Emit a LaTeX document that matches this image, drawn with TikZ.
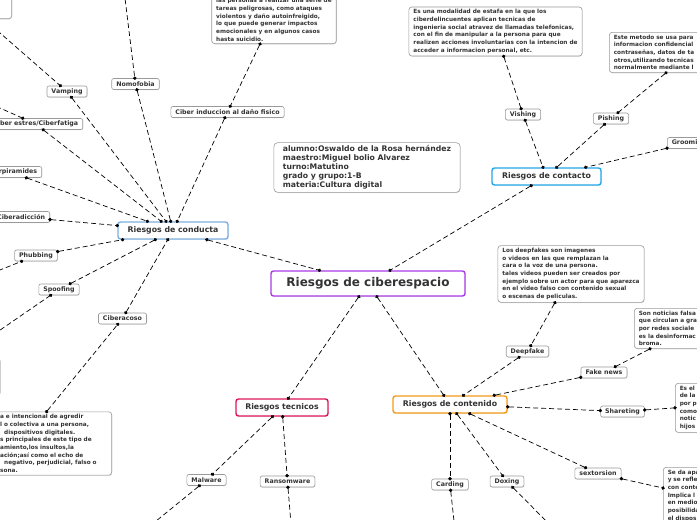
\documentclass[tikz,border=0pt]{standalone}
\usepackage{fontspec}
\setmainfont{DejaVu Sans}
\usepackage{tikz}
\usetikzlibrary{arrows.meta,shadows}
\definecolor{ink}{HTML}{333333}
\definecolor{rimgray}{HTML}{9A9A9A}
\definecolor{rootpurple}{HTML}{A93BE8}
\definecolor{conductablue}{HTML}{7DB0E0}
\definecolor{contactoblue}{HTML}{22A7E8}
\definecolor{tecnicored}{HTML}{E0165C}
\definecolor{contenidoorange}{HTML}{F59B19}

\begin{document}
\begin{tikzpicture}[x=1pt,y=-1pt,
    box/.style={draw=rimgray, fill=white, rounded corners=2pt, line width=0.6pt,
      text=ink, font=\bfseries\fontsize{6.3}{7}\selectfont,
      inner xsep=4.5pt, inner ysep=1.5pt, minimum height=11pt,
      drop shadow={shadow xshift=0.5pt, shadow yshift=-0.7pt, opacity=0.25}},
    topic/.style={box, line width=1.4pt, rounded corners=2.5pt,
      font=\bfseries\fontsize{7.8}{9}\selectfont, minimum height=17pt},
    note/.style={box, rounded corners=3pt, align=left, inner xsep=4.5pt, inner ysep=2.5pt,
      font=\bfseries\fontsize{5.75}{7.7}\selectfont},
    link/.style={draw=black, line width=0.7pt, dash pattern=on 5pt off 3pt,
      {Circle[length=3.4pt]}-{Circle[length=3.4pt]},
      shorten <=-1.7pt, shorten >=-1.7pt}
  ]
  \useasboundingbox (0,0) rectangle (697,520);
  \fill[white] (0,0) rectangle (697,520);

  % centre and the four branches
  \node[topic, draw=rootpurple, minimum width=194pt, minimum height=25pt,
    font=\bfseries\fontsize{12}{14}\selectfont] (root) at (368,283.5) {Riesgos de ciberespacio};
  \node[box, rounded corners=4pt, align=left, inner xsep=9pt, inner ysep=3pt,
    font=\bfseries\fontsize{7.7}{9}\selectfont] (alumno) at (367,167.5)
    {alumno:Oswaldo de la Rosa hernández\\maestro:Miguel bolio Alvarez\\turno:Matutino\\grado y grupo:1-B\\materia:Cultura digital};
  \node[topic, draw=conductablue, minimum width=110pt] (conducta) at (173,230.5) {Riesgos de conducta};
  \node[topic, draw=contactoblue, minimum width=109pt] (contacto) at (546.5,176.5) {Riesgos de contacto};
  \node[topic, draw=tecnicored, minimum width=92pt] (tecnicos) at (282,407.5) {Riesgos tecnicos};
  \node[topic, draw=contenidoorange, minimum width=114pt] (contenido) at (450,404.5) {Riesgos de contenido};

  % riesgos de conducta
  \node[box] (nomofobia) at (135.5,84) {Nomofobia};
  \node[box] (vamping) at (67,91.5) {Vamping};
  \node[box, anchor=east] (estres) at (83,124) {Ciber estres/Ciberfatiga};
  \node[box, anchor=east] (piramides) at (42,172) {Ciberpiramides};
  \node[box, anchor=east] (adiccion) at (50,217) {Ciberadicción};
  \node[box] (phubbing) at (36,255.5) {Phubbing};
  \node[box] (spoofing) at (59,289.5) {Spoofing};
  \node[box] (ciberacoso) at (122.5,318.5) {Ciberacoso};
  \node[box] (induccion) at (227.5,112) {Ciber induccion al daño fisico};
  \node[note, anchor=south east, minimum width=80pt, minimum height=50pt] (vampingnota) at (12,19) {};
  \node[note, anchor=north east, minimum width=100pt, minimum height=37pt] (spoofingnota) at (0.5,358) {};
  \node[note, anchor=south] (induccionnota) at (274,44)
    {las personas a realizar una serie de\\tareas peligrosas, como ataques\\violentos y daño autoinfreigido,\\lo que puede generar impactos\\emocionales y en algunos casos\\hasta suicidio.};
  \node[note, anchor=east, text width=107pt] (acosonota) at (112,443.5)
    {a e intencional de agredir\\l o colectiva a una persona,\\\hspace*{4pt}dispositivos digitales.\\s principales de este tipo de\\amiento,los insultos,la\\ación;así como el echo de\\\hspace*{4pt}negativo, perjudicial, falso o\\sona.};
  \coordinate (nomofin) at (124,-10);
  \coordinate (estresfin) at (-27,96);
  \coordinate (phubfin) at (-40,286);

  % riesgos de contacto
  \node[box] (vishing) at (523,114.5) {Vishing};
  \node[box] (pishing) at (611,118.5) {Pishing};
  \node[box, anchor=west] (grooming) at (667,143) {Grooming};
  \node[note] (vishingnota) at (495.5,31.5)
    {Es una modalidad de estafa en la que los\\ciberdelincuentes aplican tecnicas de\\ingenieria social atravez de llamadas telefonicas,\\con el fin de manipular a la persona para que\\realizen acciones involuntarias con la intencion de\\acceder a informacion personal, etc.};
  \node[note, anchor=north west, text width=160pt] (pishingnota) at (609,32)
    {Este metodo se usa para\\informacion confidencial\\contraseñas, datos de ta\\otros,utilizando tecnicas\\normalmente mediante l};

  % riesgos tecnicos
  \node[box] (malware) at (206.5,480) {Malware};
  \node[box] (ransomware) at (287.5,481.5) {Ransomware};
  \coordinate (malfin) at (145,530);
  \coordinate (ransfin) at (291.5,530);

  % riesgos de contenido
  \node[box] (deepfake) at (527.5,351.5) {Deepfake};
  \node[box] (fakenews) at (604,372.5) {Fake news};
  \node[box] (shareting) at (622.5,411.5) {Shareting};
  \node[box] (sextorsion) at (598,473.5) {sextorsion};
  \node[box] (carding) at (450,484.5) {Carding};
  \node[box] (doxing) at (507,481.5) {Doxing};
  \node[note] (deepnota) at (571,274)
    {Los deepfakes son imagenes\\o videos en las que remplazan la\\cara o la voz de una persona.\\tales videos pueden ser creados por\\ejemplo sobre un actor para que aparezca\\en el video falso con contenido sexual\\o escenas de peliculas.};
  \node[note, anchor=north west, text width=120pt] (fakenota) at (634,308)
    {Son noticias falsa\\que circulan a gra\\por redes sociale\\es la desinformac\\broma.};
  \node[note, anchor=north west, text width=80pt] (sharenota) at (675,383)
    {Es el\\de la\\por p\\como\\notic\\hijos};
  \node[note, anchor=north west, text width=90pt] (sextonota) at (663,467)
    {Se da apa\\y se refle\\con conte\\Implica l\\en medio\\posibilida\\el dispos};
  \coordinate (cardfin) at (455,530);
  \coordinate (doxfin) at (560,535);

  % connectors
  \draw[link] (conducta) -- (root);
  \draw[link] (contacto) -- (root);
  \draw[link] (root) -- (tecnicos);
  \draw[link] (root) -- (contenido);

  \draw[link] (nomofin) -- (nomofobia);
  \draw[link] (nomofobia) -- (conducta);
  \draw[link] ([xshift=-28pt]vampingnota.south east) -- (vamping);
  \draw[link] (vamping) -- (conducta);
  \draw[link] (estresfin) -- (estres);
  \draw[link] (estres) -- (conducta);
  \draw[link] (piramides) -- (conducta);
  \draw[link] (adiccion) -- (conducta);
  \draw[link] (phubfin) -- (phubbing);
  \draw[link] (phubbing) -- (conducta);
  \draw[link] ([xshift=-41pt]spoofingnota.north east) -- (spoofing);
  \draw[link] (spoofing) -- (conducta);
  \draw[link] ([xshift=-7pt]acosonota.north) -- (ciberacoso);
  \draw[link] (ciberacoso) -- (conducta);
  \draw[link] ([xshift=-14pt]induccionnota.south) -- (induccion);
  \draw[link] (induccion) -- (conducta);

  \draw[link] (vishingnota) -- (vishing);
  \draw[link] (vishing) -- (contacto);
  \draw[link] ([xshift=57pt]pishingnota.south west) -- (pishing);
  \draw[link] (pishing) -- (contacto);
  \draw[link] (grooming) -- (contacto);

  \draw[link] (tecnicos) -- (malware);
  \draw[link] (malware) -- (malfin);
  \draw[link] (tecnicos) -- (ransomware);
  \draw[link] (ransomware) -- (ransfin);

  \draw[link] (deepnota) -- (deepfake);
  \draw[link] (deepfake) -- (contenido);
  \draw[link] ([xshift=16pt]fakenota.south west) -- (fakenews);
  \draw[link] (fakenews) -- (contenido);
  \draw[link] (contenido) -- (shareting);
  \draw[link] (shareting) -- (sharenota.west);
  \draw[link] (contenido) -- (sextorsion);
  \draw[link] (sextorsion) -- ([yshift=-21pt]sextonota.north west);
  \draw[link] (contenido) -- (carding);
  \draw[link] (carding) -- (cardfin);
  \draw[link] (contenido) -- (doxing);
  \draw[link] (doxing) -- (doxfin);
\end{tikzpicture}
\end{document}
